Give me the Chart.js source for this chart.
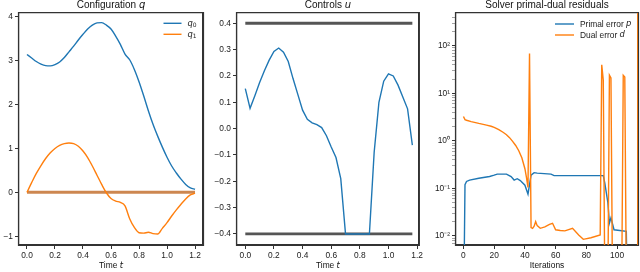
<!DOCTYPE html>
<html><head><meta charset="utf-8">
<script src="https://cdn.jsdelivr.net/npm/chart.js@4.4.1/dist/chart.umd.min.js"></script>
<style>
html,body{margin:0;padding:0;background:#fff;overflow:hidden;width:640px;height:272px;position:relative}
canvas{position:absolute;top:0}
</style></head><body>
<canvas id="c1" width="205" height="272" style="left:0px;width:205px;height:272px"></canvas>
<canvas id="c2" width="220" height="272" style="left:205px;width:220px;height:272px"></canvas>
<canvas id="c3" width="215" height="272" style="left:425px;width:215px;height:272px"></canvas>
<script>
// ---------- data ----------
const timeQ = [0, 0.0333, 0.0667, 0.1, 0.1333, 0.1667, 0.2, 0.2333, 0.2667, 0.3, 0.3333, 0.3667, 0.4, 0.4333, 0.4667, 0.5, 0.5333, 0.5667, 0.6, 0.6333, 0.6667, 0.7, 0.7333, 0.7667, 0.8, 0.8333, 0.8667, 0.9, 0.9333, 0.9667, 1.0, 1.0333, 1.0667, 1.1, 1.1333, 1.1667, 1.2];
const q0 = [3.14, 3.06, 2.98, 2.92, 2.885, 2.88, 2.91, 2.97, 3.07, 3.2, 3.33, 3.47, 3.6, 3.72, 3.81, 3.86, 3.865, 3.81, 3.72, 3.56, 3.37, 3.15, 3.02, 2.8, 2.52, 2.2, 1.86, 1.55, 1.28, 1.03, 0.8, 0.6, 0.44, 0.3, 0.18, 0.1, 0.07];
const q1 = [0, 0.22, 0.43, 0.61, 0.77, 0.9, 1.0, 1.07, 1.11, 1.125, 1.11, 1.05, 0.94, 0.79, 0.6, 0.39, 0.18, -0.01, -0.14, -0.2, -0.23, -0.31, -0.6, -0.8, -0.92, -0.93, -0.91, -0.94, -0.95, -0.82, -0.69, -0.54, -0.4, -0.27, -0.15, -0.06, -0.02];
const refTime = [0, 1.2];
const refValue = [0, 0];

const timeU = [0, 0.0333, 0.0667, 0.1, 0.1333, 0.1667, 0.2, 0.2333, 0.2667, 0.3, 0.3333, 0.3667, 0.4, 0.4333, 0.4667, 0.5, 0.5333, 0.5667, 0.6, 0.6333, 0.6667, 0.7, 0.7333, 0.7667, 0.8, 0.8333, 0.8667, 0.9, 0.9333, 0.9667, 1.0, 1.0333, 1.0667, 1.1, 1.1333, 1.1667];
const controlU = [0.152, 0.077, 0.125, 0.175, 0.22, 0.26, 0.293, 0.306, 0.29, 0.255, 0.19, 0.13, 0.07, 0.035, 0.022, 0.015, 0.004, -0.027, -0.07, -0.11, -0.19, -0.4, -0.4, -0.4, -0.4, -0.4, -0.4, -0.09, 0.1, 0.18, 0.208, 0.2, 0.165, 0.12, 0.075, -0.063];
const boundTime = [0, 1.1667];
const upperBound = [0.4, 0.4];
const lowerBound = [-0.4, -0.4];

const primalIter = [0, 1, 2, 4, 10, 17, 20, 22, 28, 31, 33, 35, 37, 40, 42, 44, 46, 48, 57, 59, 91, 92, 94, 95, 96, 98, 106, 107];
const primalErr = [1e-4, 0.12, 0.14, 0.15, 0.164, 0.178, 0.19, 0.2, 0.2, 0.178, 0.15, 0.16, 0.146, 0.117, 0.076, 0.19, 0.215, 0.21, 0.2, 0.186, 0.186, 0.13, 0.05, 0.0186, 0.024, 0.0135, 0.0125, 1e-4];
const dualIter = [0, 1, 2, 5, 10, 15, 18, 20, 23, 26, 28, 30, 32, 34, 36, 38, 40, 41, 42, 43, 44, 45, 46, 47, 48, 50, 53, 56, 58, 60, 63, 66, 71, 75, 78, 83, 89, 90, 91, 92, 94, 95, 96, 97, 103, 104, 105, 106, 113, 113.4];
const dualErr = [3.25, 2.8, 2.72, 2.55, 2.33, 2.15, 2.03, 1.92, 1.72, 1.5, 1.35, 1.17, 0.98, 0.8, 0.62, 0.44, 0.26, 0.17, 0.105, 69, 0.015, 0.0145, 0.016, 0.02, 0.0165, 0.0145, 0.0155, 0.0175, 0.0185, 0.0135, 0.013, 0.0128, 0.0145, 0.0105, 0.0085, 0.0092, 0.0105, 40, 19, 0.001, 0.001, 24, 21, 0.001, 0.001, 24, 22, 0.001, 0.001, 10000];

const ticksT1 = [0, 0.2, 0.4, 0.6, 0.8, 1.0, 1.2];
const ticksQ = [-1, 0, 1, 2, 3, 4];
const ticksT2 = [0, 0.2, 0.4, 0.6, 0.8, 1.0, 1.2];
const ticksU = [-0.4, -0.3, -0.2, -0.1, 0, 0.1, 0.2, 0.3, 0.4];
const ticksIter = [0, 20, 40, 60, 80, 100];
const ticksLogMajor = [0.01, 0.1, 1, 10, 100];
const ticksLogMinor = [0.007, 0.008, 0.009, 0.02, 0.03, 0.04, 0.05, 0.06, 0.07, 0.08, 0.09, 0.2, 0.3, 0.4, 0.5, 0.6, 0.7, 0.8, 0.9, 2, 3, 4, 5, 6, 7, 8, 9, 20, 30, 40, 50, 60, 70, 80, 90, 200, 300, 400];
const logLabels = {0.01: '10\u207B\u00B2', 0.1: '10\u207B\u00B9', 1: '10\u2070', 10: '10\u00B9', 100: '10\u00B2'};

// ---------- style ----------
const C0 = '#1f77b4', C1 = '#ff7f0e';
const FONT = '"Liberation Sans", Arial, Helvetica, sans-serif';
const MATHF = '"DejaVu Sans", sans-serif';
const SPINE = '#333333';
const TXT = '#222';
const FS = 8.4;

function pts(xs, ys) { return xs.map((x, i) => ({x: x, y: ys[i]})); }
function minus(s) { return String(s).replace('-', '\u2212'); }

function drawRuns(ctx, runs, x, y, align) {
  let w = 0;
  const ws = runs.map(r => { ctx.font = r.f; const m = ctx.measureText(r.t).width; w += m; return m; });
  let cx = align === 'center' ? x - w / 2 : x;
  runs.forEach((r, i) => { ctx.font = r.f; ctx.fillText(r.t, cx, y + (r.dy || 0)); cx += ws[i]; });
}

function panelPlugin(spec) {
  return {
    id: 'panel' + spec.id,
    afterDraw(chart) {
      const a = chart.chartArea, ctx = chart.ctx;
      ctx.save();
      ctx.strokeStyle = SPINE;
      ctx.lineWidth = 1.2;
      ctx.beginPath();
      ctx.rect(a.left - 0.5, a.top - 0.5, a.right - a.left + 1, a.bottom - a.top + 1);
      ctx.stroke();
      ctx.fillStyle = '#111';
      ctx.textBaseline = 'alphabetic';
      const cx = (a.left + a.right) / 2;
      drawRuns(ctx, spec.title, cx, 7.6, 'center');
      drawRuns(ctx, spec.xlabel, cx, 267.8, 'center');
      if (spec.legend) {
        const L = spec.legend;
        L.items.forEach((it, i) => {
          const y = L.y + i * L.dy;
          ctx.strokeStyle = it.color; ctx.lineWidth = 1.4;
          ctx.beginPath(); ctx.moveTo(L.x, y); ctx.lineTo(L.x + L.len, y); ctx.stroke();
          ctx.fillStyle = TXT; ctx.textBaseline = 'middle';
          drawRuns(ctx, it.runs, L.x + L.len + 6, y + 0.3, 'left');
        });
      }
      ctx.restore();
    }
  };
}

function makeChart(id, canvasLeft, canvasW, area, datasets, xs, ys, spec) {
  const ticksFont = {family: FONT, size: FS};
  const majorSet = ys.major || null;
  const isMajor = c => !majorSet || (c.tick && majorSet.indexOf(c.tick.value) >= 0);
  const xScale = {
    type: 'linear', position: 'bottom', min: xs.min, max: xs.max,
    afterBuildTicks: s => { s.ticks = xs.ticks.map(v => ({value: v})); },
    afterFit: s => { s.height = 272 - area.B; },
    ticks: {font: ticksFont, color: TXT, padding: 2, maxRotation: 0, autoSkip: false, callback: xs.fmt},
    grid: {drawOnChartArea: false, drawTicks: true, tickLength: 4, tickColor: SPINE, tickWidth: 1},
    border: {display: true, color: SPINE, width: 1.2}
  };
  const xTop = {
    type: 'linear', position: 'top', min: xs.min, max: xs.max,
    afterFit: s => { s.height = 0; },
    ticks: {display: false},
    grid: {display: false},
    border: {display: true, color: SPINE, width: 1.2}
  };
  const yScale = {
    type: ys.type || 'linear', position: 'left', min: ys.min, max: ys.max,
    afterBuildTicks: s => { s.ticks = ys.ticks.map(v => ({value: v})); },
    afterFit: s => { s.width = area.L - canvasLeft; },
    ticks: {font: ticksFont, color: TXT, padding: 2, autoSkip: false, callback: ys.fmt},
    grid: {drawOnChartArea: false, drawTicks: true, tickLength: 4,
      tickColor: c => isMajor(c) ? SPINE : 'rgba(51,51,51,0.75)',
      tickWidth: c => isMajor(c) ? 1 : 0.6},
    border: {display: true, color: SPINE, width: 1.2}
  };
  const yRight = {
    type: ys.type || 'linear', position: 'right', min: ys.min, max: ys.max,
    afterFit: s => { s.width = 0; },
    ticks: {display: false},
    grid: {display: false},
    border: {display: true, color: SPINE, width: 1.2}
  };
  return new Chart(document.getElementById(id), {
    type: 'line',
    data: {datasets: datasets},
    options: {
      responsive: false, devicePixelRatio: 1, animation: false, events: [],
      layout: {padding: {left: 0, top: area.T, right: canvasLeft + canvasW - area.R, bottom: 0}},
      plugins: {legend: {display: false}, title: {display: false}, tooltip: {enabled: false}},
      scales: {x: xScale, xTop: xTop, y: yScale, yRight: yRight},
      elements: {point: {radius: 0}}
    },
    plugins: [panelPlugin(spec)]
  });
}

const reg = s => 'normal ' + s + 'px ' + FONT;
const ita = s => 'italic ' + s + 'px ' + MATHF;
const sub = s => 'normal ' + s + 'px ' + MATHF;

// ---------- panel 1 ----------
makeChart('c1', 0, 205, {L: 19, R: 203, T: 13, B: 245}, [
  {label: 'q0', data: pts(timeQ, q0), borderColor: C0, borderWidth: 1.4, cubicInterpolationMode: 'monotone', order: 3},
  {label: 'ref', data: pts(refTime, refValue), borderColor: '#cd8750', borderWidth: 3, order: 2},
  {label: 'q1', data: pts(timeQ, q1), borderColor: C1, borderWidth: 1.4, cubicInterpolationMode: 'monotone', order: 1}
], {min: -0.057, max: 1.257, ticks: ticksT1, fmt: v => v.toFixed(1)},
   {min: -1.2, max: 4.085, ticks: ticksQ, fmt: v => minus(v.toFixed(0))},
   {id: 1,
    title: [{t: 'Configuration ', f: reg(10)}, {t: 'q', f: ita(10)}],
    xlabel: [{t: 'Time ', f: reg(FS)}, {t: 't', f: ita(FS)}],
    legend: {x: 163.5, y: 23.3, dy: 11, len: 18, items: [
      {color: C0, runs: [{t: 'q', f: ita(FS)}, {t: '0', f: sub(6), dy: 1.8}]},
      {color: C1, runs: [{t: 'q', f: ita(FS)}, {t: '1', f: sub(6), dy: 1.8}]}
    ]}});

// ---------- panel 2 ----------
makeChart('c2', 205, 220, {L: 237, R: 419, T: 13, B: 245}, [
  {label: 'u', data: pts(timeU, controlU), borderColor: C0, borderWidth: 1.4, order: 1},
  {label: 'upper', data: pts(boundTime, upperBound), borderColor: '#555', borderWidth: 2.8, order: 2},
  {label: 'lower', data: pts(boundTime, lowerBound), borderColor: '#555', borderWidth: 2.8, order: 3}
], {min: -0.058, max: 1.212, ticks: ticksT2, fmt: v => v.toFixed(1)},
   {min: -0.442, max: 0.439, ticks: ticksU, fmt: v => minus(v.toFixed(1))},
   {id: 2,
    title: [{t: 'Controls ', f: reg(10)}, {t: 'u', f: ita(10)}],
    xlabel: [{t: 'Time ', f: reg(FS)}, {t: 't', f: ita(FS)}]});

// ---------- panel 3 ----------
makeChart('c3', 425, 215, {L: 456, R: 638, T: 13, B: 245}, [
  {label: 'Primal error p', data: pts(primalIter, primalErr), borderColor: C0, borderWidth: 1.4, order: 2},
  {label: 'Dual error d', data: pts(dualIter, dualErr), borderColor: C1, borderWidth: 1.4, order: 1}
], {min: -4.85, max: 113.6, ticks: ticksIter, fmt: v => String(v)},
   {type: 'logarithmic', min: 0.00646, max: 490, ticks: ticksLogMajor.concat(ticksLogMinor), major: ticksLogMajor,
    fmt: v => logLabels[v] || ''},
   {id: 3,
    title: [{t: 'Solver primal-dual residuals', f: reg(10)}],
    xlabel: [{t: 'Iterations', f: reg(FS)}],
    legend: {x: 130, y: 24, dy: 11, len: 19, items: [
      {color: C0, runs: [{t: 'Primal error ', f: reg(FS)}, {t: 'p', f: ita(FS)}]},
      {color: C1, runs: [{t: 'Dual error ', f: reg(FS)}, {t: 'd', f: ita(FS)}]}
    ]}});
</script>
</body></html>
